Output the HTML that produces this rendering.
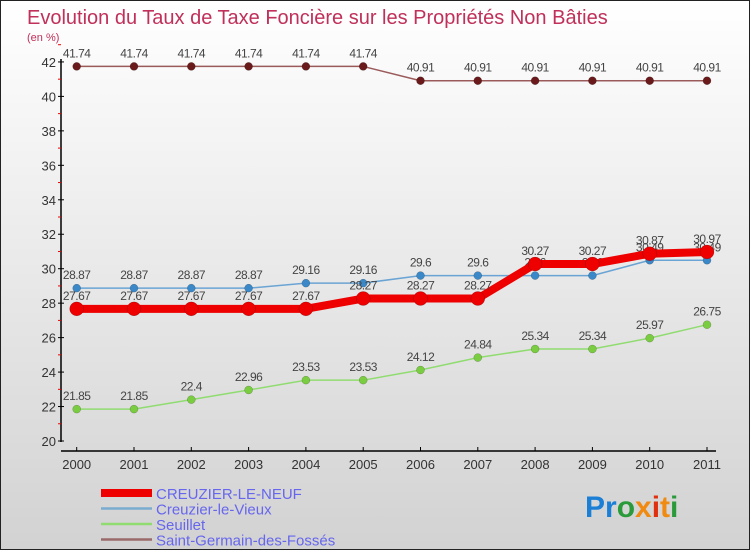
<!DOCTYPE html>
<html><head><meta charset="utf-8"><style>
body{margin:0;width:750px;height:550px;overflow:hidden;font-family:"Liberation Sans",sans-serif}
#wrap{position:relative;width:748px;height:548px;border:1px solid #222;background:linear-gradient(#ffffff,#d2d2d2)}
svg{position:absolute;left:0;top:0}
</style></head><body>
<div id="wrap">
<svg id="chart" width="750" height="550">
<text x="26" y="23" font-size="20" fill="#c0305a">Evolution du Taux de Taxe Foncière sur les Propriétés Non Bâties</text>
<text x="26" y="40" font-size="11" fill="#c0305a">(en %)</text>
<text x="584" y="516" font-size="30" font-weight="bold"><tspan fill="#1c7fd6">Pr</tspan><tspan fill="#2a9a3a">o</tspan><tspan fill="#f08a10">x</tspan><tspan fill="#e03010">i</tspan><tspan fill="#f08a10">t</tspan><tspan fill="#2a9a3a">i</tspan></text>
</svg>
</div>
<script>
const years=[2000,2001,2002,2003,2004,2005,2006,2007,2008,2009,2010,2011];
const yTicks=[20,22,24,26,28,30,32,34,36,38,40,42];
const creuzierNeuf=[27.67,27.67,27.67,27.67,27.67,28.27,28.27,28.27,30.27,30.27,30.87,30.97];
const creuzierVieux=[28.87,28.87,28.87,28.87,29.16,29.16,29.6,29.6,29.6,29.6,30.49,30.49];
const seuillet=[21.85,21.85,22.4,22.96,23.53,23.53,24.12,24.84,25.34,25.34,25.97,26.75];
const saintGermain=[41.74,41.74,41.74,41.74,41.74,41.74,40.91,40.91,40.91,40.91,40.91,40.91];
const seriesNames=["CREUZIER-LE-NEUF","Creuzier-le-Vieux","Seuillet","Saint-Germain-des-Fossés"];
const svg=document.getElementById('chart');const NS='http://www.w3.org/2000/svg';
const x=i=>75.7+i*57.3;const y=v=>440-(v-20)*17.23;
function mk(t,a,p){const e=document.createElementNS(NS,t);for(const k in a)e.setAttribute(k,a[k]);(p||svg).appendChild(e);return e;}
let ax=mk('line',{x1:60,y1:58,x2:60,y2:441,stroke:'#000','stroke-width':1.5});


let xa=mk('line',{x1:60,y1:450,x2:715,y2:450,stroke:'#000','stroke-width':1.5});


yTicks.forEach(v=>{mk('line',{x1:57,x2:63,y1:y(v),y2:y(v),stroke:'#000'});
mk('line',{x1:57,x2:60,y1:y(v+1),y2:y(v+1),stroke:'#e00'});
const t=mk('text',{x:55,y:y(v)+5,'font-size':13,'text-anchor':'end',fill:'#333'});t.textContent=v;

});
years.forEach((yr,i)=>{mk('line',{x1:x(i),x2:x(i),y1:446,y2:450,stroke:'#000'});
const t=mk('text',{x:x(i),y:468,'font-size':13,'text-anchor':'middle',fill:'#333'});t.textContent=yr;

});
function series(d,color,w,r,dot,name){const g=mk('g',{});


mk('polyline',{points:d.map((v,i)=>x(i)+','+y(v)).join(' '),fill:'none',stroke:color,'stroke-width':w,'stroke-linejoin':'round'},g);
d.forEach((v,i)=>{mk('circle',{cx:x(i),cy:y(v),r:r,fill:dot,stroke:'rgba(0,0,0,0.3)','stroke-width':0.5},g);
const t=mk('text',{x:x(i),y:y(v)-9,'font-size':12,'text-anchor':'middle',fill:'#444','letter-spacing':'-0.5'},g);t.textContent=v;});}
series(saintGermain,'#9a5a5a',1.5,4,'#6a1a1a','series-saint-germain');
series(seuillet,'#90dc70',1.5,4,'#7acc40','series-seuillet');
series(creuzierVieux,'#6aa4d4',1.5,4,'#3a88c8','series-creuzier-le-vieux');
series(creuzierNeuf,'#ee0000',8,7,'#ee0000','series-creuzier-le-neuf');
const lc=['#ee0000','#7aacd0','#90dc70','#9a6a6a'],lw=[8,2.5,2.5,2.5];
seriesNames.forEach((n,i)=>{const yy=492+i*15.5;
mk('line',{x1:100,x2:151,y1:yy,y2:yy,stroke:lc[i],'stroke-width':lw[i]});
const t=mk('text',{x:155,y:yy+6,'font-size':15,fill:'#6666ee'});t.textContent=n;

});
</script>
</body></html>
